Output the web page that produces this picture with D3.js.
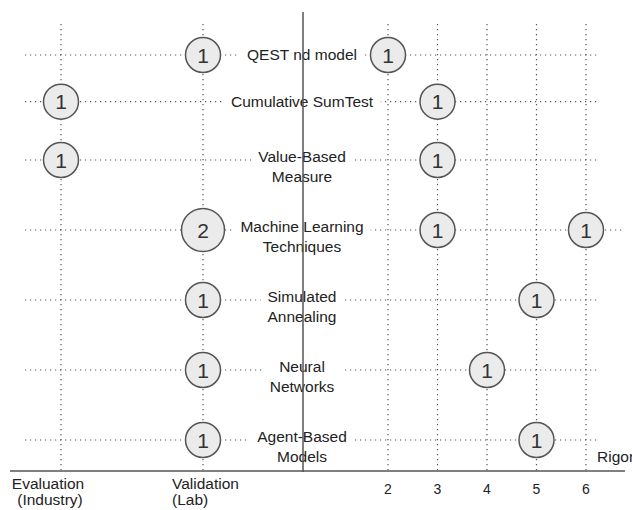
<!DOCTYPE html>
<html>
<head>
<meta charset="utf-8">
<script src="https://cdn.jsdelivr.net/npm/d3@7"></script>
<style>
  body { margin: 0; background: #fff; }
  svg { font-family: "Liberation Sans", Arial, sans-serif; }
</style>
</head>
<body>
<div id="chart"></div>
<script>
// rows (technique names), split into lines as in the picture
const techniques = [
  ["QEST nd model"],
  ["Cumulative SumTest"],
  ["Value-Based", "Measure"],
  ["Machine Learning", "Techniques"],
  ["Simulated", "Annealing"],
  ["Neural", "Networks"],
  ["Agent-Based", "Models"]
];
// left side: where each technique was tried, and how many papers
const settings = ["Evaluation", "Validation"];
const settingLabels = [["Evaluation", "(Industry)"], ["Validation", "(Lab)"]];
const settingCat = ["Validation", "Evaluation", "Evaluation", "Validation", "Validation", "Validation", "Validation"];
const settingCount = [1, 1, 1, 2, 1, 1, 1];
// right side: rigor score, and how many papers
const rigorTicks = [2, 3, 4, 5, 6];
const rigorRow = [0, 1, 2, 3, 3, 4, 5, 6];
const rigorScore = [2, 3, 3, 3, 6, 5, 4, 5];
const rigorCount = [1, 1, 1, 1, 1, 1, 1, 1];

const width = 632, height = 510;
const svg = d3.select("#chart").append("svg")
  .attr("width", width)
  .attr("height", height);

// rows take space according to how many lines their label has (+1 for the gap)
const weights = techniques.map(t => t.length + 1);
const centers = [];
let acc = 0;
weights.forEach(w => { centers.push(acc + w / 2); acc += w; });
const y = d3.scaleLinear()
  .domain([d3.min(centers), d3.max(centers)])
  .range([55, 440]);
const rowY = i => y(centers[i]);

const xLeft = d3.scalePoint().domain(settings).range([61, 203]);
const xRigor = d3.scaleLinear().domain([2, 6]).range([388, 586]);
const r = d3.scaleLinear().domain([1, 2]).range([17.5, 21.5]);

const axisY = 471, midX = 303, gridTop = 24;
const dotStyle = s => s.attr("stroke", "#555").attr("stroke-width", 1.2)
  .attr("stroke-dasharray", "1.2,3.8").attr("fill", "none");

// vertical dotted guides
const g = svg.append("g");
g.selectAll(".vl").data(settings).join("line")
  .attr("x1", d => xLeft(d)).attr("x2", d => xLeft(d))
  .attr("y1", gridTop).attr("y2", axisY)
  .call(dotStyle);
g.selectAll(".vr").data(rigorTicks).join("line")
  .attr("x1", d => xRigor(d)).attr("x2", d => xRigor(d))
  .attr("y1", gridTop).attr("y2", axisY)
  .call(dotStyle);

// horizontal dotted row lines
const rigorPoints = rigorRow.map((row, i) => ({ row, x: xRigor(rigorScore[i]), n: rigorCount[i] }));
g.selectAll(".hl").data(techniques).join("line")
  .attr("x1", 25)
  .attr("x2", (d, i) => {
    const mx = d3.max(rigorPoints.filter(p => p.row === i), p => p.x) || 0;
    return Math.max(600, mx + 37);
  })
  .attr("y1", (d, i) => rowY(i)).attr("y2", (d, i) => rowY(i))
  .call(dotStyle);

// technique labels: white box goes under the divider, text over it
const fs = 15.5, lh = 20, labelX = 302;
const boxes = svg.append("g");
const labels = svg.append("g").selectAll("text").data(techniques).join("text")
  .attr("transform", (d, i) => `translate(${labelX},${rowY(i) + (d.length > 1 ? 7 : 0)})`)
  .attr("text-anchor", "middle")
  .attr("font-size", fs)
  .attr("fill", "#222");
labels.selectAll("tspan").data(d => d.map((t, k) => ({ t, k, n: d.length }))).join("tspan")
  .attr("x", 0)
  .attr("y", d => (d.k - (d.n - 1) / 2) * lh)
  .attr("dy", "0.35em")
  .text(d => d.t);
labels.each(function(d, i) {
  const bb = this.getBBox();
  boxes.append("rect")
    .attr("transform", this.getAttribute("transform"))
    .attr("x", bb.x - 7).attr("y", bb.y)
    .attr("width", bb.width + 14).attr("height", bb.height)
    .attr("fill", "#fff");
});

// central divider and axis
svg.append("line").attr("x1", midX).attr("x2", midX).attr("y1", 12).attr("y2", axisY + 1)
  .attr("stroke", "#555").attr("stroke-width", 1.5);
svg.append("line").attr("x1", 10).attr("x2", 625).attr("y1", axisY).attr("y2", axisY)
  .attr("stroke", "#555").attr("stroke-width", 1.5);
labels.raise();

// bubbles
const leftPoints = settingCat.map((c, i) => ({ row: i, x: xLeft(c), n: settingCount[i] }));
const bubbles = svg.append("g").selectAll("g").data(leftPoints.concat(rigorPoints)).join("g")
  .attr("transform", d => `translate(${d.x},${rowY(d.row)})`);
bubbles.append("circle")
  .attr("r", d => r(d.n))
  .attr("fill", "#ebebeb")
  .attr("stroke", "#555")
  .attr("stroke-width", 1.5);
bubbles.append("text")
  .attr("text-anchor", "middle")
  .attr("dy", "0.36em")
  .attr("font-size", 21)
  .attr("fill", "#333")
  .text(d => d.n);

// rigor tick labels
svg.append("g").selectAll("text").data(rigorTicks).join("text")
  .attr("x", d => xRigor(d)).attr("y", 494)
  .attr("text-anchor", "middle").attr("font-size", 14).attr("fill", "#222")
  .text(d => d);
// axis title runs off the right edge, as in the original
svg.append("text").attr("x", 597).attr("y", 462)
  .attr("font-size", 15.5).attr("fill", "#222").text("Rigor");

// left category labels
const sl = svg.append("g").selectAll("text").data(settingLabels).join("text")
  .attr("font-size", 15.5).attr("fill", "#222")
  .attr("text-anchor", (d, i) => i === 0 ? "middle" : "start")
  .attr("transform", (d, i) => `translate(${i === 0 ? xLeft(settings[i]) - 13 : xLeft(settings[i]) - 31},0)`);
sl.selectAll("tspan").data(d => d).join("tspan")
  .attr("x", (d, k) => k === 1 && d === "(Industry)" ? 2 : 0)
  .attr("y", (d, k) => 489 + k * 16)
  .text(d => d);
</script>
</body>
</html>
